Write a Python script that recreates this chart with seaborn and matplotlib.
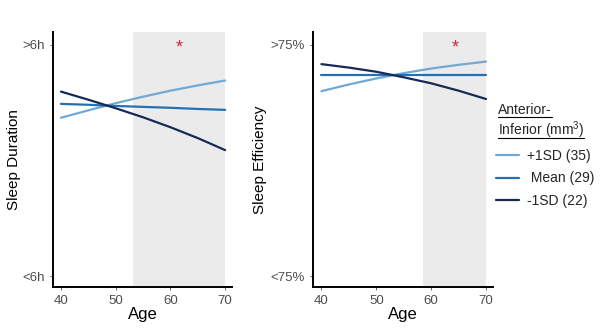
import pandas as pd
import matplotlib.pyplot as plt
import seaborn as sns
from matplotlib.lines import Line2D

sns.set_theme(style="white")
plt.rcParams["font.family"] = ["Liberation Sans", "DejaVu Sans"]
plt.rcParams["mathtext.fontset"] = "custom"
plt.rcParams["mathtext.rm"] = "Liberation Sans"
plt.rcParams["mathtext.it"] = "Liberation Sans"

# Dane (skala 0 = dolny opis, 1 = górny opis)
ages = [40, 45, 50, 55, 60, 65, 70]
groups = ["+1SD (35)", " Mean (29)", "-1SD (22)"]

dur_plus = [0.685, 0.717, 0.748, 0.776, 0.802, 0.825, 0.846]
dur_mean = [0.745, 0.741, 0.736, 0.732, 0.728, 0.723, 0.719]
dur_minus = [0.798, 0.763, 0.726, 0.687, 0.644, 0.597, 0.545]

eff_plus = [0.800, 0.829, 0.855, 0.878, 0.898, 0.914, 0.928]
eff_mean = [0.869, 0.869, 0.869, 0.869, 0.869, 0.869, 0.869]
eff_minus = [0.917, 0.902, 0.884, 0.860, 0.834, 0.802, 0.766]

dur_ticks = ["<6h", ">6h"]
eff_ticks = ["<75%", ">75%"]
dur_shade = (53.1, 70)
eff_shade = (58.5, 70)
dur_star = 61.6
eff_star = 64.4

colors = {groups[0]: "#72a9d3", groups[1]: "#2470b3", groups[2]: "#172a55"}


def long_df(plus, mean, minus):
    rows = []
    for g, vals in zip(groups, [plus, mean, minus]):
        for a, v in zip(ages, vals):
            rows.append({"Age": a, "Value": v, "Group": g})
    return pd.DataFrame(rows)


fig = plt.figure(figsize=(6, 3.3), dpi=100)
ax1 = fig.add_axes([0.088, 0.130, 0.299, 0.773])
ax2 = fig.add_axes([0.522, 0.130, 0.300, 0.773])

panels = [
    (ax1, long_df(dur_plus, dur_mean, dur_minus), dur_ticks, dur_shade, dur_star, "Sleep Duration", -0.175),
    (ax2, long_df(eff_plus, eff_mean, eff_minus), eff_ticks, eff_shade, eff_star, "Sleep Efficiency", -0.258),
]

for ax, df, yt, shade, star, ylab, lx in panels:
    ax.axvspan(shade[0], shade[1], color="#ebebeb", lw=0, zorder=0)
    sns.lineplot(data=df, x="Age", y="Value", hue="Group", palette=colors,
                 hue_order=groups, linewidth=1.6, legend=False, ax=ax, zorder=3)
    ax.text(star, 0.985, "*", color="#d7262b", fontsize=13, ha="center", va="center")
    ax.set_xlim(38.5, 71.3)
    ax.set_ylim(-0.048, 1.056)
    ax.set_xticks([40, 50, 60, 70])
    ax.set_yticks([0, 1])
    ax.set_yticklabels(yt)
    ax.tick_params(axis="both", labelsize=9.5, colors="#4d4d4d", length=2.5, width=0.6,
                   left=True, bottom=True)
    ax.set_xlabel("Age", fontsize=12, labelpad=0, color="black")
    ax.set_ylabel(ylab, fontsize=11, color="black")
    ax.yaxis.set_label_coords(lx, 0.5)
    for s in ["top", "right"]:
        ax.spines[s].set_visible(False)
    for s in ["left", "bottom"]:
        ax.spines[s].set_color("black")
        ax.spines[s].set_linewidth(1.4)
    ax.set_facecolor("white")

# Legenda
handles = [Line2D([0], [0], color=colors[g], lw=1.6) for g in groups]
fig.legend(handles, groups, loc="upper left", bbox_to_anchor=(0.818, 0.565),
           frameon=False, fontsize=10, handlelength=1.6, handletextpad=0.6,
           labelspacing=0.6, borderaxespad=0)

t1 = fig.text(0.830, 0.655, "Anterior-", fontsize=10, va="baseline")
t2 = fig.text(0.830, 0.592, "Inferior (mm$^{3}$)", fontsize=10, va="baseline")
fig.canvas.draw()
r = fig.canvas.get_renderer()
for t, base in [(t1, 0.655), (t2, 0.592)]:
    bb = t.get_window_extent(r).transformed(fig.transFigure.inverted())
    y = base - 0.009
    fig.add_artist(Line2D([bb.x0, bb.x1], [y, y], transform=fig.transFigure,
                          color="black", lw=0.8))

plt.savefig("out.png", dpi=100)
plt.close()
